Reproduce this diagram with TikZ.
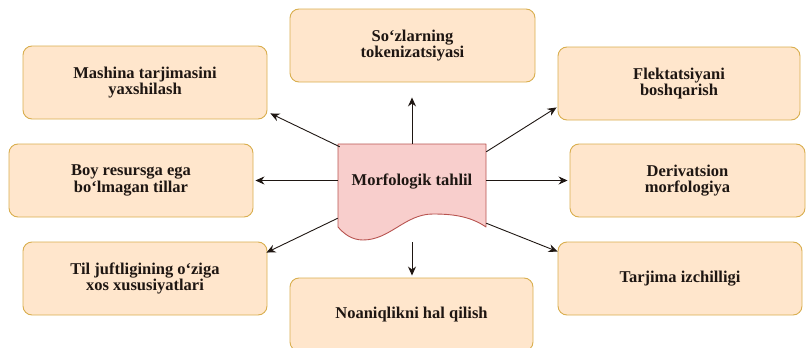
\documentclass[tikz,border=0pt]{standalone}
\usepackage{fontspec}
\setmainfont{Liberation Serif}
\usetikzlibrary{arrows.meta}

\definecolor{boxfill}{HTML}{FFE6CC}
\definecolor{boxline}{HTML}{D9AE4E}
\definecolor{docfill}{HTML}{F8CECC}
\definecolor{docline}{HTML}{B85450}
\definecolor{ink}{HTML}{1E1612}

\tikzset{
  topic/.style={draw=boxline, fill=boxfill, rounded corners=9pt, line width=0.9pt,
    minimum height=73pt, align=center, text=ink, inner sep=0pt,
    font=\fontsize{16.5}{16.5}\selectfont\bfseries},
  conn/.style={draw=ink, line width=0.9pt, -{Stealth[length=9pt,width=8pt]}},
}

\begin{document}
\begin{tikzpicture}[x=1pt, y=-1pt, line join=round]
    \useasboundingbox (0,0) rectangle (806,348);

    % 周りの箱
    \foreach \nm/\pos/\bw/\txt in {
        tok/{(412.5,45.5)}/245/{So‘zlarning\\tokenizatsiyasi},
        mash/{(145,82.5)}/244/{Mashina tarjimasini\\yaxshilash},
        flek/{(679,83.5)}/242/{Flektatsiyani\\boshqarish},
        boy/{(131,180.5)}/244/{Boy resursga ega\\bo‘lmagan tillar},
        der/{(687.5,180.5)}/235/{Derivatsion\\morfologiya},
        til/{(145,278.5)}/244/{Til juftligining o‘ziga\\xos xususiyatlari},
        tar/{(680,278.5)}/244/{Tarjima izchilligi},
        noa/{(411.5,314.5)}/243/{Noaniqlikni hal qilish}} {
        \node[topic, minimum width=\bw pt] (\nm) at \pos {\txt};
    }

    % 中央の文書形
    \filldraw[fill=docfill, draw=docline, line width=0.9pt]
        (338,144) -- (486,144) -- (486,227)
        .. controls (470,216) and (452,214) .. (433,214)
        .. controls (405,214) and (390,240) .. (363,240)
        .. controls (352,240) and (344,234) .. (338,227) -- cycle;
    \node[minimum width=148pt, minimum height=98pt, inner sep=0pt, text=ink,
          text height=10pt, text depth=26pt, font=\fontsize{16.5}{16.5}\selectfont\bfseries]
        (mt) at (412,193) {Morfologik tahlil};

    % 矢印
    \draw[conn, shorten >=15pt] (mt.north) -- (mt.north |- tok.south);
    \draw[conn] ([shift={(2,3)}]mt.north west) -- ([shift={(3,-6)}]mash.south east);
    \draw[conn] ([shift={(0,8)}]mt.north east) -- ([shift={(-1,-13)}]flek.south west);
    \draw[conn, shorten >=2pt] (mt.west |- boy.east) -- (boy.east);
    \draw[conn, shorten >=2pt] (mt.east |- der.west) -- (der.west);
    \draw[conn] ([shift={(0,-24)}]mt.south west) -- ([shift={(-1,11)}]til.north east);
    \draw[conn] ([shift={(0,-19)}]mt.south east) -- ([shift={(0,10)}]tar.north west);
    \draw[conn, shorten >=2pt] (mt.south) -- (mt.south |- noa.north);
\end{tikzpicture}
\end{document}
